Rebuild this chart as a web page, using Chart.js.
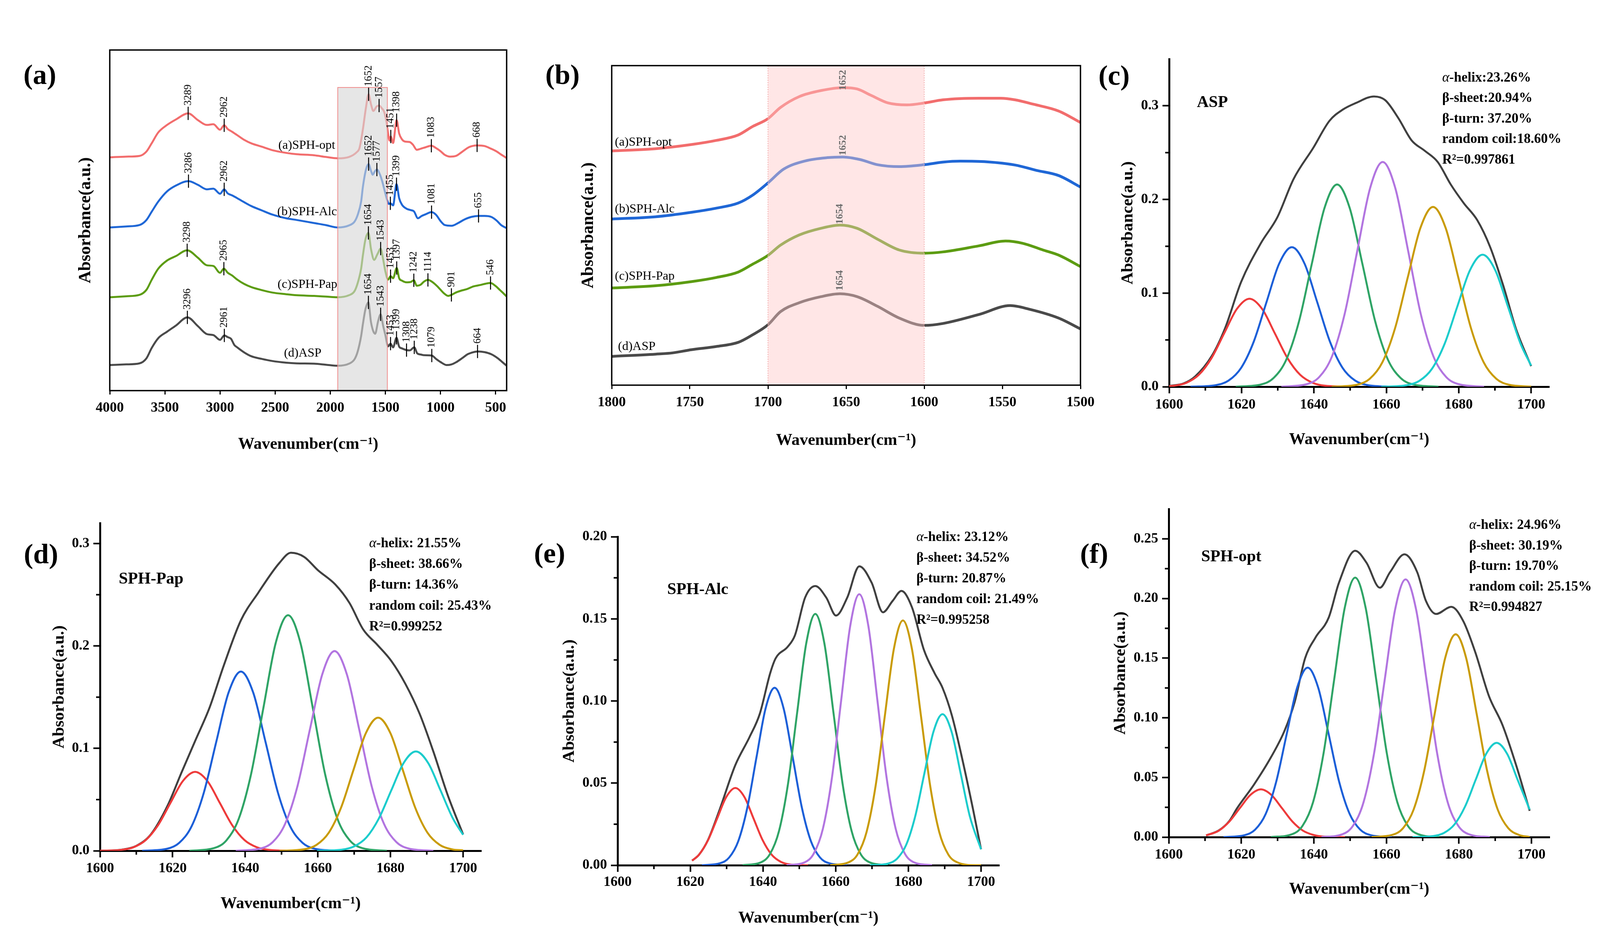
<!DOCTYPE html>
<html>
<head>
<meta charset="utf-8">
<script src="https://cdn.jsdelivr.net/npm/chart.js@4.4.1/dist/chart.umd.min.js"></script>
<style>
body { margin: 0; background: #fff; width: 4166px; height: 2409px; position: relative; overflow: hidden; }
.panel { position: absolute; }
.tag { position: absolute; font: bold 72px 'Liberation Serif', 'DejaVu Serif', serif; line-height: 1; transform: translate(-50%, -50%); color: #000; }
</style>
</head>
<body>
<div class="tag" style="left:102px;top:191px">(a)</div>
<div class="tag" style="left:1440px;top:191px">(b)</div>
<div class="tag" style="left:2852px;top:193px">(c)</div>
<div class="tag" style="left:105px;top:1418px">(d)</div>
<div class="tag" style="left:1407px;top:1416px">(e)</div>
<div class="tag" style="left:2801px;top:1417px">(f)</div>
<script>
// ---------- (a) full FTIR spectra: [wavenumber, offset absorbance] ----------
const ftirOpt = [[4000,68.5],[3850,68.7],[3731,68.9],[3667,70.2],[3620,72.6],[3560,75.8],[3480,78.0],[3400,79.6],[3289,81.4],[3200,79.4],[3120,78.0],[3060,78.2],[3000,76.6],[2962,77.9],[2930,76.8],[2890,76.0],[2844,75.0],[2780,73.6],[2717,72.6],[2620,71.6],[2527,70.6],[2400,69.8],[2305,69.4],[2147,69.1],[2040,68.6],[1932,68.2],[1830,68.6],[1760,70.0],[1735,71.2],[1704,76.7],[1678,82.7],[1652,87.0],[1630,84.0],[1609,82.1],[1580,83.4],[1557,83.7],[1530,82.8],[1513,82.0],[1491,79.1],[1475,75.5],[1462,73.4],[1451,74.6],[1430,72.7],[1398,79.4],[1375,75.5],[1350,73.8],[1320,73.1],[1280,73.0],[1250,72.2],[1215,70.7],[1180,71.0],[1130,71.5],[1083,71.9],[1040,71.2],[1000,70.3],[960,69.2],[912,68.7],[860,68.9],[800,70.2],[740,71.5],[668,72.0],[600,71.8],[540,71.0],[490,70.2],[450,69.3],[400,68.3]];
const ftirAlc = [[4000,47.9],[3850,48.2],[3731,48.6],[3667,50.1],[3620,52.5],[3560,55.5],[3480,58.5],[3400,60.2],[3286,61.5],[3200,60.4],[3120,59.1],[3060,59.3],[3000,57.8],[2962,59.1],[2930,57.9],[2890,57.3],[2844,56.5],[2780,55.3],[2717,54.2],[2620,52.9],[2527,51.7],[2400,50.6],[2305,50.1],[2147,49.2],[2040,48.6],[1932,47.9],[1830,48.5],[1780,49.6],[1751,51.6],[1720,55.5],[1704,59.8],[1675,65.0],[1652,66.5],[1630,64.5],[1615,63.4],[1595,64.4],[1577,64.9],[1550,63.5],[1529,61.5],[1505,58.5],[1482,55.8],[1468,54.8],[1455,55.0],[1430,54.4],[1399,60.6],[1375,56.5],[1350,54.6],[1308,53.4],[1270,53.0],[1240,52.6],[1205,50.6],[1170,51.3],[1133,51.8],[1081,52.4],[1040,51.6],[1000,49.8],[960,48.6],[900,48.4],[840,49.2],[785,50.2],[720,51.0],[655,51.3],[600,51.3],[540,51.0],[490,49.9],[450,48.6],[400,47.7]];
const ftirPap = [[4000,27.4],[3850,27.7],[3731,28.1],[3667,29.6],[3620,32.5],[3560,35.8],[3480,38.2],[3400,39.5],[3298,41.2],[3200,39.0],[3120,36.8],[3060,36.6],[3000,34.6],[2965,35.8],[2930,34.6],[2890,33.8],[2844,32.6],[2780,31.3],[2717,30.4],[2620,29.5],[2527,28.8],[2400,28.3],[2305,28.0],[2147,27.8],[2040,27.6],[1932,27.4],[1830,28.0],[1780,29.2],[1751,31.6],[1720,35.8],[1704,39.7],[1680,44.5],[1654,46.3],[1630,41.5],[1602,38.4],[1570,40.2],[1543,41.7],[1520,38.5],[1500,35.0],[1475,32.6],[1453,33.6],[1430,33.0],[1397,36.0],[1375,33.0],[1350,32.3],[1308,31.8],[1270,31.9],[1242,32.4],[1215,30.8],[1180,31.1],[1150,32.0],[1114,32.5],[1070,31.8],[1022,30.4],[970,28.6],[930,27.8],[901,28.1],[860,28.8],[817,29.3],[760,29.8],[700,30.6],[640,31.0],[590,31.4],[546,31.6],[500,30.7],[460,29.5],[430,28.6],[400,27.6]];
const ftirAsp = [[4000,7.5],[3850,7.7],[3731,8.0],[3667,9.5],[3620,12.5],[3560,15.4],[3480,17.3],[3400,19.1],[3296,21.5],[3200,18.9],[3120,16.6],[3060,16.3],[3000,14.9],[2961,16.2],[2930,15.7],[2900,15.2],[2870,13.4],[2844,12.7],[2780,11.2],[2717,10.1],[2620,9.3],[2527,8.7],[2400,8.2],[2305,8.0],[2147,7.9],[2040,7.6],[1932,7.3],[1830,7.9],[1780,9.2],[1751,11.5],[1720,16.0],[1704,19.5],[1680,24.0],[1654,25.9],[1630,20.0],[1593,16.7],[1565,20.5],[1543,22.4],[1520,19.0],[1500,16.3],[1475,13.0],[1453,13.8],[1430,12.7],[1399,15.5],[1375,12.9],[1350,12.4],[1308,11.9],[1280,11.8],[1238,12.7],[1210,10.9],[1180,10.6],[1150,10.4],[1079,10.3],[1040,9.3],[1000,8.4],[943,7.5],[900,7.7],[860,8.3],[800,9.6],[753,10.7],[700,11.3],[664,11.5],[600,11.3],[540,10.7],[480,9.5],[440,8.4],[400,7.3]];

// peak labels in (a): wavenumber and the curve height where the marker sits
const optPeaks = [3289, 2962, 1652, 1557, 1451, 1398, 1083, 668];
const optPeakY = [81.4, 77.9, 87.0, 83.7, 74.6, 79.4, 71.9, 72.0];
const alcPeaks = [3286, 2962, 1652, 1577, 1455, 1399, 1081, 655];
const alcPeakY = [61.5, 59.1, 66.5, 64.9, 55.0, 60.6, 52.4, 51.3];
const papPeaks = [3298, 2965, 1654, 1543, 1453, 1397, 1242, 1114, 901, 546];
const papPeakY = [41.2, 35.8, 46.3, 41.7, 33.6, 36.0, 32.4, 32.5, 28.1, 31.6];
const aspPeaks = [3296, 2961, 1654, 1543, 1453, 1399, 1308, 1238, 1079, 664];
const aspPeakY = [21.5, 16.2, 25.9, 22.4, 13.8, 15.5, 11.9, 12.7, 10.3, 11.5];

// ---------- (b) amide I region ----------
const bandOpt = [[1800,73.3],[1772,74.0],[1749,75.3],[1733,76.6],[1719,78.3],[1710,80.9],[1700,83.4],[1692,86.9],[1680,90.3],[1666,92.2],[1652,93.1],[1643,92.7],[1634,90.7],[1623,88.3],[1611,87.7],[1600,88.3],[1588,89.3],[1565,89.8],[1551,89.8],[1542,89.3],[1530,87.9],[1514,85.8],[1500,82.2]];
const bandAlc = [[1800,52.0],[1772,52.7],[1749,54.1],[1733,55.4],[1719,57.0],[1710,59.4],[1700,63.3],[1690,67.6],[1676,70.2],[1662,71.2],[1652,71.4],[1641,70.6],[1630,69.0],[1616,68.4],[1600,69.0],[1588,69.8],[1577,70.1],[1560,69.9],[1542,68.9],[1528,67.2],[1514,65.6],[1500,62.0]];
const bandPap = [[1800,30.4],[1772,31.1],[1749,32.4],[1733,33.7],[1719,35.4],[1710,37.8],[1700,40.6],[1692,43.8],[1680,47.0],[1666,49.1],[1654,50.1],[1643,49.1],[1630,45.7],[1616,42.3],[1600,41.3],[1588,41.7],[1565,43.6],[1548,45.1],[1537,44.4],[1524,42.3],[1514,40.7],[1500,37.1]];
const bandAsp = [[1800,9.0],[1772,9.7],[1761,10.1],[1749,11.1],[1733,12.1],[1719,13.4],[1710,15.7],[1700,18.9],[1692,23.0],[1680,25.8],[1666,27.7],[1654,28.6],[1643,27.7],[1630,24.7],[1616,21.0],[1600,18.7],[1588,19.3],[1565,22.1],[1545,24.9],[1533,23.8],[1514,21.0],[1500,17.6]];
const bandPeaks = [1652, 1652, 1654, 1654];
const bandPeakY = [92.3, 71.9, 50.4, 29.6];

// ---------- (c) ASP curve fitting ----------
const aspRed = [[1600,0.0006],[1601.2,0.0010],[1604.7,0.0041],[1608.2,0.0127],[1611.7,0.0305],[1615.2,0.0570],[1618.7,0.0830],[1622.2,0.0940],[1625.7,0.0830],[1629.2,0.0570],[1632.7,0.0305],[1636.2,0.0127],[1639.7,0.0041],[1643.2,0.0010],[1650.2,0]];
const aspBlue = [[1605.9,0],[1612.9,0.0017],[1616.4,0.0065],[1619.9,0.0202],[1623.4,0.0484],[1626.9,0.0904],[1630.4,0.1315],[1633.9,0.1490],[1637.4,0.1315],[1640.9,0.0904],[1644.4,0.0484],[1647.9,0.0202],[1651.4,0.0065],[1654.9,0.0017],[1661.9,0]];
const aspGreen = [[1618.4,0],[1625.4,0.0024],[1628.9,0.0095],[1632.4,0.0292],[1635.9,0.0701],[1639.4,0.1310],[1642.9,0.1906],[1646.4,0.2160],[1649.9,0.1906],[1653.4,0.1310],[1656.9,0.0701],[1660.4,0.0292],[1663.9,0.0095],[1667.4,0.0024],[1674.4,0]];
const aspPurple = [[1631.0,0],[1638.0,0.0027],[1641.5,0.0105],[1645.0,0.0325],[1648.5,0.0779],[1652.0,0.1456],[1655.5,0.2118],[1659.0,0.2400],[1662.5,0.2118],[1666.0,0.1456],[1669.5,0.0779],[1673.0,0.0325],[1676.5,0.0105],[1680.0,0.0027],[1687.0,0]];
const aspGold = [[1644.9,0],[1651.9,0.0021],[1655.4,0.0084],[1658.9,0.0260],[1662.4,0.0623],[1665.9,0.1164],[1669.4,0.1694],[1672.9,0.1920],[1676.4,0.1694],[1679.9,0.1164],[1683.4,0.0623],[1686.9,0.0260],[1690.4,0.0084],[1693.9,0.0021],[1700,0.0001]];
const aspCyan = [[1658.6,0],[1665.6,0.0016],[1669.1,0.0062],[1672.6,0.0191],[1676.1,0.0458],[1679.6,0.0855],[1683.1,0.1244],[1686.6,0.1410],[1690.1,0.1244],[1693.6,0.0855],[1697.1,0.0458],[1700,0.0226]];
const aspSum = [[1600,0.0008],[1604,0.0035],[1607.2,0.011],[1611.8,0.033],[1615.4,0.062],[1619.9,0.112],[1625.3,0.153],[1629.9,0.181],[1634.4,0.222],[1639.8,0.255],[1644.3,0.284],[1648.0,0.296],[1651.6,0.303],[1656.6,0.310],[1659.7,0.306],[1663.3,0.287],[1667.0,0.263],[1670.6,0.252],[1674.2,0.240],[1677.8,0.216],[1681.4,0.196],[1685.1,0.178],[1688.7,0.149],[1692.3,0.108],[1695.9,0.061],[1700,0.022]];
const aspStruct = ['α-helix:23.26%', 'β-sheet:20.94%', 'β-turn: 37.20%', 'random coil:18.60%', 'R²=0.997861'];

// ---------- (d) SPH-Pap curve fitting ----------
const papRed = [[1600,0],[1605.8,0.0009],[1609.2,0.0034],[1612.6,0.0104],[1616.0,0.0250],[1619.4,0.0467],[1622.8,0.0680],[1626.2,0.0770],[1629.6,0.0680],[1633.0,0.0467],[1636.4,0.0250],[1639.8,0.0104],[1643.2,0.0034],[1646.6,0.0009],[1653.4,0]];
const papBlue = [[1611.6,0],[1618.4,0.0019],[1621.8,0.0077],[1625.2,0.0237],[1628.6,0.0568],[1632.0,0.1061],[1635.4,0.1544],[1638.8,0.1750],[1642.2,0.1544],[1645.6,0.1061],[1649.0,0.0568],[1652.4,0.0237],[1655.8,0.0077],[1659.2,0.0019],[1666.0,0]];
const papGreen = [[1624.6,0],[1631.4,0.0026],[1634.8,0.0101],[1638.2,0.0311],[1641.6,0.0747],[1645.0,0.1395],[1648.4,0.2030],[1651.8,0.2300],[1655.2,0.2030],[1658.6,0.1395],[1662.0,0.0747],[1665.4,0.0311],[1668.8,0.0101],[1672.2,0.0026],[1679.0,0]];
const papPurple = [[1637.4,0],[1644.2,0.0022],[1647.6,0.0086],[1651.0,0.0264],[1654.4,0.0633],[1657.8,0.1183],[1661.2,0.1721],[1664.6,0.1950],[1668.0,0.1721],[1671.4,0.1183],[1674.8,0.0633],[1678.2,0.0264],[1681.6,0.0086],[1685.0,0.0022],[1691.8,0]];
const papGold = [[1649.4,0],[1656.2,0.0014],[1659.6,0.0057],[1663.0,0.0176],[1666.4,0.0422],[1669.8,0.0788],[1673.2,0.1147],[1676.6,0.1300],[1680.0,0.1147],[1683.4,0.0788],[1686.8,0.0422],[1690.2,0.0176],[1693.6,0.0057],[1697.0,0.0014],[1700,0.0004]];
const papCyan = [[1659.8,0],[1666.6,0.0011],[1670.0,0.0043],[1673.4,0.0131],[1676.8,0.0315],[1680.2,0.0588],[1683.6,0.0856],[1687.0,0.0970],[1690.4,0.0856],[1693.8,0.0588],[1697.2,0.0315],[1700,0.0156]];
const papSum = [[1600,0],[1606,0.0011],[1610,0.0048],[1614,0.016],[1618.6,0.044],[1622.4,0.076],[1626.3,0.108],[1630.2,0.140],[1634.0,0.180],[1638.8,0.225],[1643.6,0.252],[1649.4,0.281],[1652.6,0.291],[1656.2,0.287],[1660.0,0.274],[1664.8,0.260],[1668.7,0.242],[1672.5,0.216],[1676.4,0.201],[1680.3,0.185],[1684.1,0.163],[1688.0,0.134],[1691.8,0.097],[1695.7,0.055],[1700,0.016]];
const papStruct = ['α-helix: 21.55%', 'β-sheet: 38.66%', 'β-turn: 14.36%', 'random coil: 25.43%', 'R²=0.999252'];

// ---------- (e) SPH-Alc curve fitting ----------
const alcRed = [[1620.5,0.0028],[1622.4,0.0064],[1624.9,0.0153],[1627.4,0.0285],[1629.9,0.0415],[1632.4,0.0470],[1634.9,0.0415],[1637.4,0.0285],[1639.9,0.0153],[1642.4,0.0064],[1644.9,0.0021],[1647.4,0.0005],[1652.4,0]];
const alcBlue = [[1623.2,0],[1628.2,0.0012],[1630.7,0.0047],[1633.2,0.0146],[1635.7,0.0351],[1638.2,0.0655],[1640.7,0.0953],[1643.2,0.1080],[1645.7,0.0953],[1648.2,0.0655],[1650.7,0.0351],[1653.2,0.0146],[1655.7,0.0047],[1658.2,0.0012],[1663.2,0]];
const alcGreen = [[1634.4,0],[1639.4,0.0017],[1641.9,0.0067],[1644.4,0.0207],[1646.9,0.0497],[1649.4,0.0928],[1651.9,0.1350],[1654.4,0.1530],[1656.9,0.1350],[1659.4,0.0928],[1661.9,0.0497],[1664.4,0.0207],[1666.9,0.0067],[1669.4,0.0017],[1674.4,0]];
const alcPurple = [[1646.5,0],[1651.5,0.0018],[1654.0,0.0072],[1656.5,0.0223],[1659.0,0.0536],[1661.5,0.1001],[1664.0,0.1456],[1666.5,0.1650],[1669.0,0.1456],[1671.5,0.1001],[1674.0,0.0536],[1676.5,0.0223],[1679.0,0.0072],[1681.5,0.0018],[1686.5,0]];
const alcGold = [[1658.5,0],[1663.5,0.0017],[1666.0,0.0065],[1668.5,0.0202],[1671.0,0.0484],[1673.5,0.0904],[1676.0,0.1315],[1678.5,0.1490],[1681.0,0.1315],[1683.5,0.0904],[1686.0,0.0484],[1688.5,0.0202],[1691.0,0.0065],[1693.5,0.0017],[1698.5,0],[1700,0]];
const alcCyan = [[1669.4,0],[1674.4,0.0010],[1676.9,0.0040],[1679.4,0.0124],[1681.9,0.0299],[1684.4,0.0558],[1686.9,0.0812],[1689.4,0.0920],[1691.9,0.0812],[1694.4,0.0558],[1696.9,0.0299],[1700,0.0097]];
const alcSum = [[1620.5,0.0028],[1622.4,0.0064],[1624.9,0.0155],[1628.1,0.034],[1632.4,0.061],[1636.3,0.078],[1639.1,0.092],[1642.0,0.117],[1643.5,0.126],[1646.8,0.133],[1648.8,0.140],[1651.6,0.163],[1654.4,0.170],[1657.4,0.163],[1660.1,0.152],[1663.2,0.163],[1666.5,0.182],[1669.9,0.172],[1673.0,0.154],[1675.7,0.161],[1678.1,0.167],[1681.0,0.157],[1684.3,0.131],[1687.2,0.117],[1689.4,0.108],[1692.0,0.091],[1694.9,0.064],[1697.8,0.034],[1700,0.0097]];
const alcStruct = ['α-helix: 23.12%', 'β-sheet: 34.52%', 'β-turn: 20.87%', 'random coil: 21.49%', 'R²=0.995258'];

// ---------- (f) SPH-opt curve fitting ----------
const optRed = [[1610.3,0.0014],[1613.8,0.0054],[1616.7,0.0130],[1619.6,0.0243],[1622.5,0.0353],[1625.4,0.0400],[1628.3,0.0353],[1631.2,0.0243],[1634.1,0.0130],[1637.0,0.0054],[1639.9,0.0018],[1642.8,0.0004],[1648.6,0]];
const optBlue = [[1615.1,0],[1620.9,0.0016],[1623.8,0.0062],[1626.7,0.0192],[1629.6,0.0461],[1632.5,0.0861],[1635.4,0.1253],[1638.3,0.1420],[1641.2,0.1253],[1644.1,0.0861],[1647.0,0.0461],[1649.9,0.0192],[1652.8,0.0062],[1655.7,0.0016],[1661.5,0]];
const optGreen = [[1628.2,0],[1634.0,0.0024],[1636.9,0.0095],[1639.8,0.0294],[1642.7,0.0706],[1645.6,0.1319],[1648.5,0.1919],[1651.4,0.2175],[1654.3,0.1919],[1657.2,0.1319],[1660.1,0.0706],[1663.0,0.0294],[1665.9,0.0095],[1668.8,0.0024],[1674.6,0]];
const optPurple = [[1642.1,0],[1647.9,0.0024],[1650.8,0.0095],[1653.7,0.0292],[1656.6,0.0701],[1659.5,0.1310],[1662.4,0.1906],[1665.3,0.2160],[1668.2,0.1906],[1671.1,0.1310],[1674.0,0.0701],[1676.9,0.0292],[1679.8,0.0095],[1682.7,0.0024],[1688.5,0]];
const optGold = [[1655.9,0],[1661.7,0.0019],[1664.6,0.0075],[1667.5,0.0230],[1670.4,0.0552],[1673.3,0.1031],[1676.2,0.1500],[1679.1,0.1700],[1682.0,0.1500],[1684.9,0.1031],[1687.8,0.0552],[1690.7,0.0230],[1693.6,0.0075],[1696.5,0.0019],[1699.5,0.0001]];
const optCyan = [[1667.2,0],[1673.0,0.0009],[1675.9,0.0035],[1678.8,0.0107],[1681.7,0.0257],[1684.6,0.0479],[1687.5,0.0697],[1690.4,0.0790],[1693.3,0.0697],[1696.2,0.0479],[1699.5,0.0231]];
const optSum = [[1610.3,0.0014],[1613.8,0.0056],[1616.7,0.0135],[1618.8,0.024],[1623.5,0.044],[1628.2,0.067],[1631.9,0.089],[1634.7,0.113],[1637.6,0.150],[1640.4,0.167],[1644.1,0.184],[1646.9,0.213],[1651.4,0.240],[1654.5,0.230],[1658.2,0.209],[1661.0,0.222],[1665.0,0.237],[1668.5,0.222],[1670.9,0.198],[1673.7,0.187],[1677.9,0.193],[1681.2,0.181],[1684.5,0.155],[1688.3,0.118],[1692.0,0.094],[1695.8,0.060],[1699.5,0.022]];
const optStruct = ['α-helix: 24.96%', 'β-sheet: 30.19%', 'β-turn: 19.70%', 'random coil: 25.15%', 'R²=0.994827'];

// ---------- ticks ----------
const fullTicks = [4000, 3500, 3000, 2500, 2000, 1500, 1000, 500];
const amideTicks = [1800, 1750, 1700, 1650, 1600, 1550, 1500];
const fitTicks = [1600, 1620, 1640, 1660, 1680, 1700];
const fitMinor = [1610, 1630, 1650, 1670, 1690];
const tenthTicks = [0, 0.1, 0.2, 0.3];
const tenthMinor = [0.05, 0.15, 0.25];
const alcYTicks = [0, 0.05, 0.10, 0.15, 0.20];
const optYTicks = [0, 0.05, 0.10, 0.15, 0.20, 0.25];
const twentiethMinor = [0.025, 0.075, 0.125, 0.175, 0.225];
const amideBand = [1932, 1482];
const amideIBand = [1700, 1600];

const SERIF = "'Liberation Serif', 'DejaVu Serif', serif";
Chart.defaults.color = '#000';
Chart.defaults.font.family = SERIF;

const FIT = { red: '#ee3b3b', blue: '#1c5fd8', green: '#2fa466', purple: '#b275e0', gold: '#c99b05', cyan: '#1ccccc', black: '#404040' };
const SPEC = { opt: '#f26d6d', alc: '#1f67d6', pap: '#5c9c12', asp: '#4a4a4a' };

// page geometry of each plot area
function frame(g) {
  const left = Math.round(g.yTitleX - g.ySize * 0.6);
  const bottom = Math.round(g.xTitleY + g.xSize * 0.6);
  const top = g.plotT - g.padT;
  return { left, top, width: g.plotR + g.padR - left, height: bottom - top, yw: g.plotL - left, xh: bottom - g.plotB };
}

function line(data, color, width) {
  return { data, borderColor: color, borderWidth: width, fill: false, pointRadius: 0, cubicInterpolationMode: 'monotone' };
}

function build(g, datasets, xCfg, yCfg, hooks) {
  const f = frame(g);
  const host = document.createElement('div');
  host.className = 'panel';
  Object.assign(host.style, { left: f.left + 'px', top: f.top + 'px', width: f.width + 'px', height: f.height + 'px' });
  const cv = document.createElement('canvas');
  cv.width = f.width; cv.height = f.height;
  host.appendChild(cv);
  document.body.appendChild(host);
  xCfg.afterFit = s => { s.height = f.xh; };
  yCfg.afterFit = s => { s.width = f.yw; };
  return new Chart(cv, {
    type: 'line',
    data: { datasets },
    options: {
      responsive: false, animation: false, events: [],
      layout: { padding: { top: g.padT, right: g.padR, left: 0, bottom: 0 } },
      plugins: { legend: { display: false }, tooltip: { enabled: false } },
      scales: { x: xCfg, y: yCfg }
    },
    plugins: [{
      id: 'extras' + g.id,
      afterDatasetsDraw: c => { if (hooks.under) hooks.under(c, f); },
      afterDraw: c => { if (hooks.over) hooks.over(c, f); }
    }]
  });
}

function xAxis(o) {
  return {
    type: 'linear', min: o.min, max: o.max, reverse: !!o.reverse, z: 1,
    afterBuildTicks: s => { s.ticks = o.ticks.map(v => ({ value: v })); },
    ticks: { autoSkip: false, maxRotation: 0, padding: o.pad, font: { family: SERIF, size: 36, weight: 'bold', lineHeight: 1.2 }, color: '#000', callback: v => String(v) },
    grid: { display: true, drawOnChartArea: false, drawTicks: true, tickLength: o.tickLen, tickWidth: o.tickW, tickColor: '#000' },
    border: { display: o.border, width: 5, color: '#000' },
    title: { display: true, text: 'Wavenumber(cm⁻¹)', font: { family: SERIF, size: 42, weight: 'bold', lineHeight: 1.2 }, padding: 0, color: '#000' }
  };
}

function yAxis(o) {
  const cfg = {
    type: 'linear', min: 0, max: o.max,
    title: { display: true, text: 'Absorbance(a.u.)', font: { family: SERIF, size: o.titleSize, weight: 'bold', lineHeight: 1.2 }, padding: 0, color: '#000' }
  };
  if (!o.ticks) {
    cfg.ticks = { display: false };
    cfg.grid = { display: false };
    cfg.border = { display: false };
  } else {
    cfg.afterBuildTicks = s => { s.ticks = o.ticks.map(v => ({ value: v })); };
    cfg.ticks = { autoSkip: false, padding: 10, font: { family: SERIF, size: 36, weight: 'bold', lineHeight: 1.2 }, color: '#000', callback: v => v.toFixed(o.digits) };
    cfg.grid = { display: true, drawOnChartArea: false, drawTicks: true, tickLength: 17, tickWidth: 4, tickColor: '#000' };
    cfg.border = { display: true, width: 5, color: '#000' };
  }
  return cfg;
}

function frameBox(c) {
  const a = c.chartArea, ctx = c.ctx;
  ctx.save();
  ctx.strokeStyle = '#000'; ctx.lineWidth = 3.5;
  ctx.strokeRect(a.left, a.top, a.right - a.left, a.bottom - a.top);
  ctx.restore();
}

function drawPeaks(c, xs, ys, o) {
  const ctx = c.ctx, sx = c.scales.x, sy = c.scales.y;
  ctx.save();
  ctx.fillStyle = o.color; ctx.strokeStyle = '#000'; ctx.lineWidth = 2.5;
  ctx.font = o.font;
  xs.forEach((w, i) => {
    const px = sx.getPixelForValue(w), py = sy.getPixelForValue(ys[i]);
    if (o.tick) {
      ctx.beginPath(); ctx.moveTo(px, py - o.tick); ctx.lineTo(px, py + o.tick); ctx.stroke();
    }
    ctx.save();
    ctx.translate(px, py - o.gap);
    ctx.rotate(-Math.PI / 2);
    ctx.textAlign = 'left'; ctx.textBaseline = 'middle';
    ctx.fillText(String(w), 0, 0);
    ctx.restore();
  });
  ctx.restore();
}

function drawCurveLabels(c, labels, align) {
  const ctx = c.ctx, sx = c.scales.x, sy = c.scales.y;
  ctx.save();
  ctx.fillStyle = '#000'; ctx.font = `32px ${SERIF}`;
  ctx.textAlign = align; ctx.textBaseline = 'middle';
  labels.forEach(l => ctx.fillText(l[0], sx.getPixelForValue(l[1]), sy.getPixelForValue(l[2])));
  ctx.restore();
}

function drawStruct(ctx, s, x, y) {
  if (s[0] === 'α') {
    ctx.font = `italic 35px ${SERIF}`;
    ctx.fillText('α', x, y);
    x += ctx.measureText('α').width;
    s = s.slice(1);
  }
  ctx.font = `bold 35px ${SERIF}`;
  ctx.fillText(s, x, y);
}

function fitHooks(sample, lines, minorY, pos) {
  return {
    over(c, f) {
      const ctx = c.ctx, a = c.chartArea, sx = c.scales.x, sy = c.scales.y;
      ctx.save();
      ctx.strokeStyle = '#000'; ctx.lineWidth = 4;
      ctx.beginPath();
      fitMinor.forEach(v => { const p = sx.getPixelForValue(v); ctx.moveTo(p, a.bottom); ctx.lineTo(p, a.bottom + 10); });
      minorY.forEach(v => { if (v < sy.max) { const p = sy.getPixelForValue(v); ctx.moveTo(a.left - 10, p); ctx.lineTo(a.left, p); } });
      ctx.stroke();
      ctx.fillStyle = '#000'; ctx.textAlign = 'left'; ctx.textBaseline = 'middle';
      ctx.font = `bold 42px ${SERIF}`;
      ctx.fillText(sample, pos.nameX - f.left, pos.nameY - f.top);
      lines.forEach((s, i) => drawStruct(ctx, s, pos.noteX - f.left, pos.noteY + i * pos.step - f.top));
      ctx.restore();
    }
  };
}

function fitSets(sum, r, b, g, p, o, cy) {
  // first entry is painted last, so the envelope sits underneath the components
  return [line(cy, FIT.cyan, 5), line(o, FIT.gold, 5), line(p, FIT.purple, 5), line(g, FIT.green, 5),
          line(b, FIT.blue, 5), line(r, FIT.red, 5), line(sum, FIT.black, 5)];
}

// ---------- (a) ----------
const gA = { id: 'a', plotL: 281, plotR: 1297, plotT: 128, plotB: 1000, yTitleX: 219, xTitleY: 1138, padT: 30, padR: 45, ySize: 44, xSize: 42 };
build(gA,
  [line(ftirOpt, SPEC.opt, 5), line(ftirAlc, SPEC.alc, 5), line(ftirPap, SPEC.pap, 5), line(ftirAsp, SPEC.asp, 5)],
  xAxis({ min: 400, max: 4000, reverse: true, ticks: fullTicks, pad: 13, tickLen: 10, tickW: 3, border: false }),
  yAxis({ max: 100, titleSize: 44 }),
  {
    under(c) {
      const ctx = c.ctx, a = c.chartArea, sx = c.scales.x, sy = c.scales.y;
      const x1 = sx.getPixelForValue(amideBand[0]), x2 = sx.getPixelForValue(amideBand[1]), yt = sy.getPixelForValue(89);
      ctx.save();
      ctx.fillStyle = 'rgba(214,214,214,0.62)';
      ctx.fillRect(x1, yt, x2 - x1, a.bottom - yt);
      ctx.strokeStyle = '#f08c8c'; ctx.lineWidth = 2;
      ctx.strokeRect(x1, yt, x2 - x1, a.bottom - yt);
      ctx.restore();
    },
    over(c) {
      frameBox(c);
      const pk = { color: '#000', font: `27px ${SERIF}`, tick: 17, gap: 20 };
      drawPeaks(c, optPeaks, optPeakY, pk);
      drawPeaks(c, alcPeaks, alcPeakY, pk);
      drawPeaks(c, papPeaks, papPeakY, pk);
      drawPeaks(c, aspPeaks, aspPeakY, pk);
      drawCurveLabels(c, [['(a)SPH-opt', 2213, 72.0], ['(b)SPH-Alc', 2210, 52.4], ['(c)SPH-Pap', 2207, 31.1], ['(d)ASP', 2250, 10.9]], 'center');
    }
  });

// ---------- (b) ----------
const gB = { id: 'b', plotL: 1566, plotR: 2770, plotT: 168, plotB: 986, yTitleX: 1506, xTitleY: 1128, padT: 30, padR: 45, ySize: 44, xSize: 42 };
build(gB,
  [line(bandOpt, SPEC.opt, 7), line(bandAlc, SPEC.alc, 7), line(bandPap, SPEC.pap, 7), line(bandAsp, SPEC.asp, 7)],
  xAxis({ min: 1500, max: 1800, reverse: true, ticks: amideTicks, pad: 13, tickLen: 10, tickW: 3, border: false }),
  yAxis({ max: 100, titleSize: 44 }),
  {
    under(c) {
      const ctx = c.ctx, a = c.chartArea, sx = c.scales.x;
      const x1 = sx.getPixelForValue(amideIBand[0]), x2 = sx.getPixelForValue(amideIBand[1]);
      ctx.save();
      ctx.fillStyle = 'rgba(255,200,200,0.45)';
      ctx.fillRect(x1, a.top, x2 - x1, a.bottom - a.top);
      ctx.strokeStyle = '#f2b4b4'; ctx.lineWidth = 2; ctx.setLineDash([3, 3]);
      ctx.beginPath();
      ctx.moveTo(x1, a.top); ctx.lineTo(x1, a.bottom);
      ctx.moveTo(x2, a.top); ctx.lineTo(x2, a.bottom);
      ctx.stroke();
      ctx.restore();
    },
    over(c) {
      frameBox(c);
      drawPeaks(c, bandPeaks, bandPeakY, { color: '#6e6e6e', font: `bold 26px ${SERIF}`, tick: 0, gap: 0 });
      drawCurveLabels(c, [['(a)SPH-opt', 1798, 76.0], ['(b)SPH-Alc', 1798, 55.1], ['(c)SPH-Pap', 1798, 34.0], ['(d)ASP', 1796, 12.0]], 'left');
    }
  });

// ---------- (c) ----------
const gC = { id: 'c', plotL: 2993, plotR: 3966, plotT: 151, plotB: 990, yTitleX: 2888, xTitleY: 1126, padT: 40, padR: 130, ySize: 43, xSize: 42 };
build(gC, fitSets(aspSum, aspRed, aspBlue, aspGreen, aspPurple, aspGold, aspCyan),
  xAxis({ min: 1600, max: 1705, ticks: fitTicks, pad: 8, tickLen: 17, tickW: 4, border: true }),
  yAxis({ max: 0.35, ticks: tenthTicks, digits: 1, titleSize: 43 }),
  fitHooks('ASP', aspStruct, tenthMinor, { nameX: 3064, nameY: 263, noteX: 3692, noteY: 199.5, step: 52.6 }));

// ---------- (d) ----------
const gD = { id: 'd', plotL: 256, plotR: 1232, plotT: 1339, plotB: 2178, yTitleX: 152, xTitleY: 2314, padT: 40, padR: 60, ySize: 43, xSize: 42 };
build(gD, fitSets(papSum, papRed, papBlue, papGreen, papPurple, papGold, papCyan),
  xAxis({ min: 1600, max: 1705, ticks: fitTicks, pad: 7, tickLen: 17, tickW: 4, border: true }),
  yAxis({ max: 0.32, ticks: tenthTicks, digits: 1, titleSize: 43 }),
  fitHooks('SPH-Pap', papStruct, tenthMinor, { nameX: 304, nameY: 1483, noteX: 945, noteY: 1392, step: 53.2 }));

// ---------- (e) ----------
const gE = { id: 'e', plotL: 1581, plotR: 2558, plotT: 1374, plotB: 2215, yTitleX: 1458, xTitleY: 2351, padT: 40, padR: 130, ySize: 43, xSize: 42 };
build(gE, fitSets(alcSum, alcRed, alcBlue, alcGreen, alcPurple, alcGold, alcCyan),
  xAxis({ min: 1600, max: 1705, ticks: fitTicks, pad: 5, tickLen: 17, tickW: 4, border: true }),
  yAxis({ max: 0.20, ticks: alcYTicks, digits: 2, titleSize: 43 }),
  fitHooks('SPH-Alc', alcStruct, twentiethMinor, { nameX: 1708, nameY: 1510, noteX: 2346, noteY: 1376, step: 53.0 }));

// ---------- (f) ----------
const gF = { id: 'f', plotL: 2992, plotR: 3967, plotT: 1303, plotB: 2143, yTitleX: 2869, xTitleY: 2277, padT: 40, padR: 130, ySize: 43, xSize: 42 };
build(gF, fitSets(optSum, optRed, optBlue, optGreen, optPurple, optGold, optCyan),
  xAxis({ min: 1600, max: 1705, ticks: fitTicks, pad: 7, tickLen: 17, tickW: 4, border: true }),
  yAxis({ max: 0.275, ticks: optYTicks, digits: 2, titleSize: 43 }),
  fitHooks('SPH-opt', optStruct, twentiethMinor, { nameX: 3075, nameY: 1426, noteX: 3761, noteY: 1345, step: 52.5 }));
</script>
</body>
</html>
